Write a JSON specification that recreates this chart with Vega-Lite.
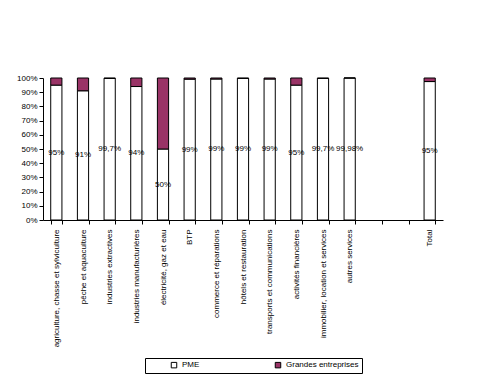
{
  "$schema": "https://vega.github.io/schema/vega-lite/v6.json",
  "width": 400,
  "height": 142,
  "autosize": "none",
  "padding": {"left": 43, "top": 78, "right": 37, "bottom": 164},
  "background": "white",
  "config": {
    "font": "Liberation Sans",
    "view": {"stroke": null},
    "axis": {"labelFont": "Liberation Sans", "labelFontSize": 8, "labelColor": "#000", "domainColor": "#000", "tickColor": "#000", "grid": false, "title": null, "labelOverlap": false}
  },
  "data": {
    "values": [
      {"cat": "agriculture, chasse et sylviculture", "type": "PME", "value": 95, "label": "95%"},
      {"cat": "agriculture, chasse et sylviculture", "type": "Grandes entreprises", "value": 5},
      {"cat": "pêche et aquaculture", "type": "PME", "value": 91, "label": "91%"},
      {"cat": "pêche et aquaculture", "type": "Grandes entreprises", "value": 9},
      {"cat": "industries extractives", "type": "PME", "value": 99.7, "label": "99,7%"},
      {"cat": "industries extractives", "type": "Grandes entreprises", "value": 0.3},
      {"cat": "industries manufacturières", "type": "PME", "value": 94, "label": "94%"},
      {"cat": "industries manufacturières", "type": "Grandes entreprises", "value": 6},
      {"cat": "électricité, gaz et eau", "type": "PME", "value": 50, "label": "50%"},
      {"cat": "électricité, gaz et eau", "type": "Grandes entreprises", "value": 50},
      {"cat": "BTP", "type": "PME", "value": 99.2, "label": "99%"},
      {"cat": "BTP", "type": "Grandes entreprises", "value": 0.8},
      {"cat": "commerce et réparations", "type": "PME", "value": 99.3, "label": "99%"},
      {"cat": "commerce et réparations", "type": "Grandes entreprises", "value": 0.7},
      {"cat": "hôtels et restauration", "type": "PME", "value": 99.7, "label": "99%"},
      {"cat": "hôtels et restauration", "type": "Grandes entreprises", "value": 0.3},
      {"cat": "transports et communications", "type": "PME", "value": 99.3, "label": "99%"},
      {"cat": "transports et communications", "type": "Grandes entreprises", "value": 0.7},
      {"cat": "activités financières", "type": "PME", "value": 95, "label": "95%"},
      {"cat": "activités financières", "type": "Grandes entreprises", "value": 5},
      {"cat": "immobilier, location et services", "type": "PME", "value": 99.7, "label": "99,7%"},
      {"cat": "immobilier, location et services", "type": "Grandes entreprises", "value": 0.3},
      {"cat": "autres services", "type": "PME", "value": 99.98, "label": "99,98%"},
      {"cat": "autres services", "type": "Grandes entreprises", "value": 0.02},
      {"cat": "Total", "type": "PME", "value": 97.5, "label": "95%"},
      {"cat": "Total", "type": "Grandes entreprises", "value": 2.5}
    ]
  },
  "encoding": {
    "x": {
      "field": "cat", "type": "nominal", "sort": null,
      "scale": {
        "domain": ["agriculture, chasse et sylviculture", "pêche et aquaculture", "industries extractives", "industries manufacturières", "électricité, gaz et eau", "BTP", "commerce et réparations", "hôtels et restauration", "transports et communications", "activités financières", "immobilier, location et services", "autres services", "_1", "_2", "Total"],
        "paddingInner": 0.58, "paddingOuter": 0.29
      },
      "axis": {
        "labelAngle": -90, "tickBand": "extent", "tickSize": 4, "labelPadding": 5, "labelLimit": 200,
        "labelExpr": "datum.value == '_1' || datum.value == '_2' ? '' : datum.value"
      }
    }
  },
  "layer": [
    {
      "mark": {"type": "bar", "stroke": "#000", "strokeWidth": 1},
      "encoding": {
        "y": {
          "field": "value", "type": "quantitative", "stack": "zero",
          "scale": {"domain": [0, 100], "nice": false},
          "axis": {"values": [0, 10, 20, 30, 40, 50, 60, 70, 80, 90, 100], "labelExpr": "datum.value + '%'", "tickSize": 4, "labelPadding": 2, "labelOverlap": false}
        },
        "color": {
          "field": "type", "type": "nominal",
          "scale": {"domain": ["PME", "Grandes entreprises"], "range": ["#ffffff", "#993366"]},
          "legend": {
            "orient": "none", "legendX": 102, "legendY": 280, "direction": "horizontal", "title": null,
            "strokeColor": "#000", "padding": 3, "columnPadding": 52,
            "symbolType": "square", "symbolSize": 30, "symbolStrokeColor": "#000", "symbolStrokeWidth": 1, "symbolOffset": 22,
            "labelFont": "Liberation Sans", "labelFontSize": 8, "labelColor": "#000", "labelOffset": 4
          }
        },
        "order": {"field": "type", "sort": "descending"}
      }
    },
    {
      "transform": [
        {"filter": "datum.type == 'PME'"},
        {"calculate": "datum.value / 2", "as": "mid"}
      ],
      "mark": {"type": "text", "fontSize": 8, "fill": "#000", "font": "Liberation Sans"},
      "encoding": {
        "y": {
          "field": "mid", "type": "quantitative",
          "scale": {"domain": [0, 100], "nice": false},
          "axis": {"values": [0, 10, 20, 30, 40, 50, 60, 70, 80, 90, 100], "labelExpr": "datum.value + '%'", "tickSize": 4, "labelPadding": 2, "labelOverlap": false}
        },
        "text": {"field": "label"}
      }
    }
  ]
}
